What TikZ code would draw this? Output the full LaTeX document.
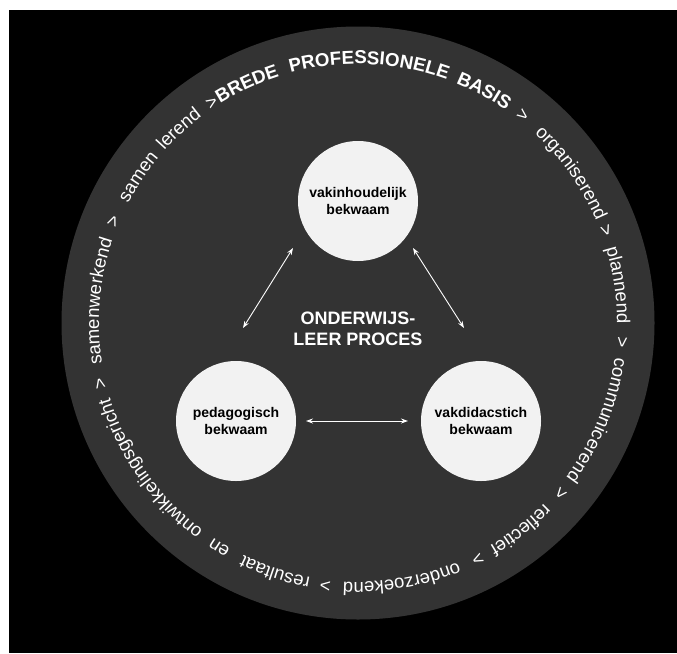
\documentclass[tikz,border=0pt]{standalone}
\usepackage{fontspec}
\setmainfont{Liberation Sans}
\usetikzlibrary{decorations.text,arrows.meta,calc}
\definecolor{ringgray}{HTML}{333333}
\definecolor{discfill}{HTML}{F2F2F2}
\newcommand\ringreg{\fontsize{18.5}{21}\selectfont}
\newcommand\ringbold{\fontsize{18.7}{21}\selectfont\bfseries}
\newcommand\ringtxt[3]{%
  \path[decorate,decoration={text along path,text align=center,text color=white,
    text={|#2|#3}}] (#1+90:259pt) arc[start angle=#1+90,end angle=#1-90,radius=259pt];}
\begin{document}
\begin{tikzpicture}[x=1pt,y=1pt,
  disc/.style={circle,fill=discfill,minimum size=120pt,inner sep=0pt,align=center,
    font=\bfseries\fontsize{14}{17.5}\selectfont,text=black},
  arr/.style={draw=white,line width=0.9pt,{Stealth[length=7pt,width=5pt]}-{Stealth[length=7pt,width=5pt]}}]
\useasboundingbox (0,0) rectangle (677,-653);
\fill[white] (0,0) rectangle (677,-653);
\fill[black] (9,-10) rectangle (677,-653);
\fill[ringgray] (358,-323) circle[radius=296.5];
\node[disc] (T) at (358,-201) {vakinhoudelijk\\bekwaam};
\node[disc] (L) at (236,-421) {pedagogisch\\bekwaam};
\node[disc] (R) at (481,-421) {vakdidacstich\\bekwaam};
\node[text=white,align=center,font=\bfseries\fontsize{18}{21}\selectfont] (C) at (358,-329) {ONDERWIJS-\\LEER PROCES};
\draw[arr] ($(L)+(7,93)$) -- ($(T)+(-65,-47)$);
\draw[arr] ($(T)+(55,-47)$) -- ($(R)+(-17,93)$);
\draw[arr] ($(L)+(70,0)$) -- ($(R)+(-73,0)$);
\begin{scope}[shift={(358,-323)}]
\ringtxt{123.5}{\ringreg}{>}
\ringtxt{114.9}{\ringbold}{BREDE}
\ringtxt{87.5}{\ringbold}{PROFESSIONELE}
\ringtxt{61.5}{\ringbold}{BASIS}
\ringtxt{51.5}{\ringreg}{>}
\ringtxt{35.1}{\ringreg}{organiserend}
\ringtxt{20.5}{\ringreg}{>}
\ringtxt{8.3}{\ringreg}{plannend}
\ringtxt{-4.2}{\ringreg}{>}
\ringtxt{-22.1}{\ringreg}{communicerend}
\ringtxt{-40.1}{\ringreg}{>}
\ringtxt{-51.8}{\ringreg}{reflectief}
\ringtxt{-63.1}{\ringreg}{>}
\ringtxt{-80.3}{\ringreg}{onderzoekend}
\ringtxt{-97.1}{\ringreg}{>}
\ringtxt{-108.4}{\ringreg}{resultaat}
\ringtxt{-121.7}{\ringreg}{en}
\ringtxt{-145}{\ringreg}{ontwikkelingsgericht}
\ringtxt{-166.8}{\ringreg}{>}
\ringtxt{175.2}{\ringreg}{samenwerkend}
\ringtxt{157.5}{\ringreg}{>}
\ringtxt{146.4}{\ringreg}{samen}
\ringtxt{132.7}{\ringreg}{lerend}
\end{scope}
\end{tikzpicture}
\end{document}
